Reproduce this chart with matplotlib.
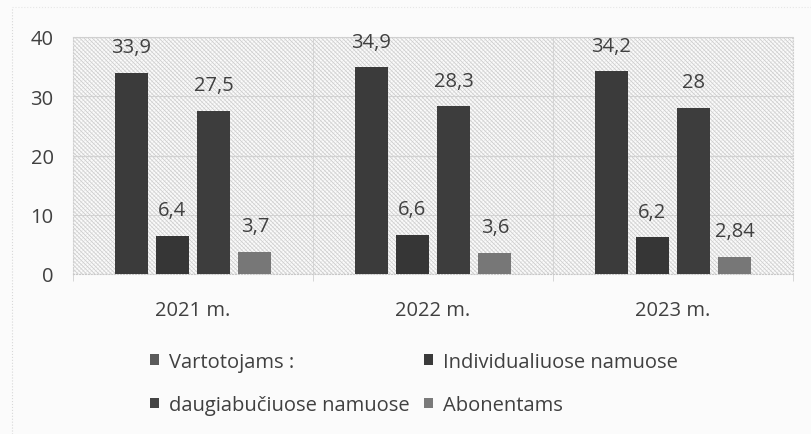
import matplotlib
matplotlib.use("Agg")
import matplotlib.pyplot as plt
from matplotlib.patches import Rectangle, Patch
from matplotlib.lines import Line2D
import numpy as np

plt.rcParams['font.family'] = ['Open Sans', 'DejaVu Sans']
plt.rcParams['hatch.linewidth'] = 0.6

# data
years = ['2021 m.', '2022 m.', '2023 m.']
series_names = ['Vartotojams :', 'Individualiuose namuose',
                'daugiabučiuose namuose', 'Abonentams']
vartotojams = [33.9, 34.9, 34.2]
individualiuose = [6.4, 6.6, 6.2]
daugiabuciuose = [27.5, 28.3, 28.0]
abonentams = [3.7, 3.6, 2.84]
value_labels = [['33,9', '34,9', '34,2'],
                ['6,4', '6,6', '6,2'],
                ['27,5', '28,3', '28'],
                ['3,7', '3,6', '2,84']]

series = [vartotojams, individualiuose, daugiabuciuose, abonentams]
bar_colors = ['#3b3b3b', '#363636', '#3d3d3d', '#777777']
legend_colors = ['#5a5a5a', '#3a3a3a', '#444444', '#7a7a7a']
TEXT = '#404040'
FS = 14.5

fig = plt.figure(figsize=(8.11, 4.35), dpi=100)
fig.patch.set_facecolor('#fbfbfb')
ax = fig.add_axes([73 / 811, 1 - 275 / 435, 720 / 811, 237 / 435])
ax.set_facecolor('#fbfbfb')

# hatched plot area background
ax.add_patch(Rectangle((0, 0), 1, 1, transform=ax.transAxes, facecolor='none',
                       edgecolor='#e8e8e8', hatch='////////', lw=0, zorder=0))
ax.add_patch(Rectangle((0, 0), 1, 1, transform=ax.transAxes, facecolor='none',
                       edgecolor='#cccccc', hatch='\\\\\\\\\\\\\\\\', lw=0, zorder=0))

x = np.arange(len(years))
step = 0.172
width = 0.1375
for i, vals in enumerate(series):
    pos = x + (i - 1.5) * step
    ax.bar(pos, vals, width=width, color=bar_colors[i], zorder=3)
    for px, v, lab in zip(pos, vals, value_labels[i]):
        ax.annotate(lab, (px, v), xytext=(0, 18.5), textcoords='offset points',
                    ha='center', va='center', fontsize=FS, color=TEXT, zorder=4)

ax.set_xlim(-0.5, 2.5)
ax.set_ylim(0, 40)
ax.set_yticks([0, 10, 20, 30, 40])
ax.grid(axis='y', color='#d2d2d2', lw=0.8, zorder=1)
for b in [0.5, 1.5]:
    ax.axvline(b, color='#d4d4d4', lw=0.8, zorder=1)
for s in ax.spines.values():
    s.set_color('#d0d0d0')
    s.set_linestyle(':')
    s.set_linewidth(0.8)
ax.spines['bottom'].set_color('#c8c8c8')

ax.set_xticks(x)
ax.set_xticklabels(years)
ax.set_xticks([-0.5, 0.5, 1.5, 2.5], minor=True)
ax.tick_params(axis='x', which='major', length=0, pad=19, labelsize=FS, labelcolor=TEXT)
ax.tick_params(axis='x', which='minor', length=5, color='#d0d0d0')
ax.tick_params(axis='y', length=0, pad=14, labelsize=FS, labelcolor=TEXT)

# legend, Excel-like two rows
order = [0, 2, 1, 3]
handles = [Patch(facecolor=legend_colors[i], edgecolor='none') for i in order]
labels = [series_names[i] for i in order]
fig.legend(handles, labels, loc='upper left', bbox_to_anchor=(150 / 811, 1 - 353 / 435),
           ncol=2, frameon=False, fontsize=FS, labelcolor=TEXT,
           handlelength=0.45, handleheight=0.45, handletextpad=0.5,
           columnspacing=0.7, labelspacing=1.15, borderpad=0, borderaxespad=0)

# faint edges of the scanned chart frame (left and top only)
fig.add_artist(Line2D([12 / 811, 12 / 811], [0, 1 - 8 / 435], transform=fig.transFigure,
                      color='#d8d8d8', lw=0.8, ls=':'))
fig.add_artist(Line2D([12 / 811, 1], [1 - 8 / 435, 1 - 8 / 435], transform=fig.transFigure,
                      color='#e6e6e6', lw=0.8, ls=':'))

fig.savefig('out.png', dpi=100, facecolor=fig.get_facecolor())
